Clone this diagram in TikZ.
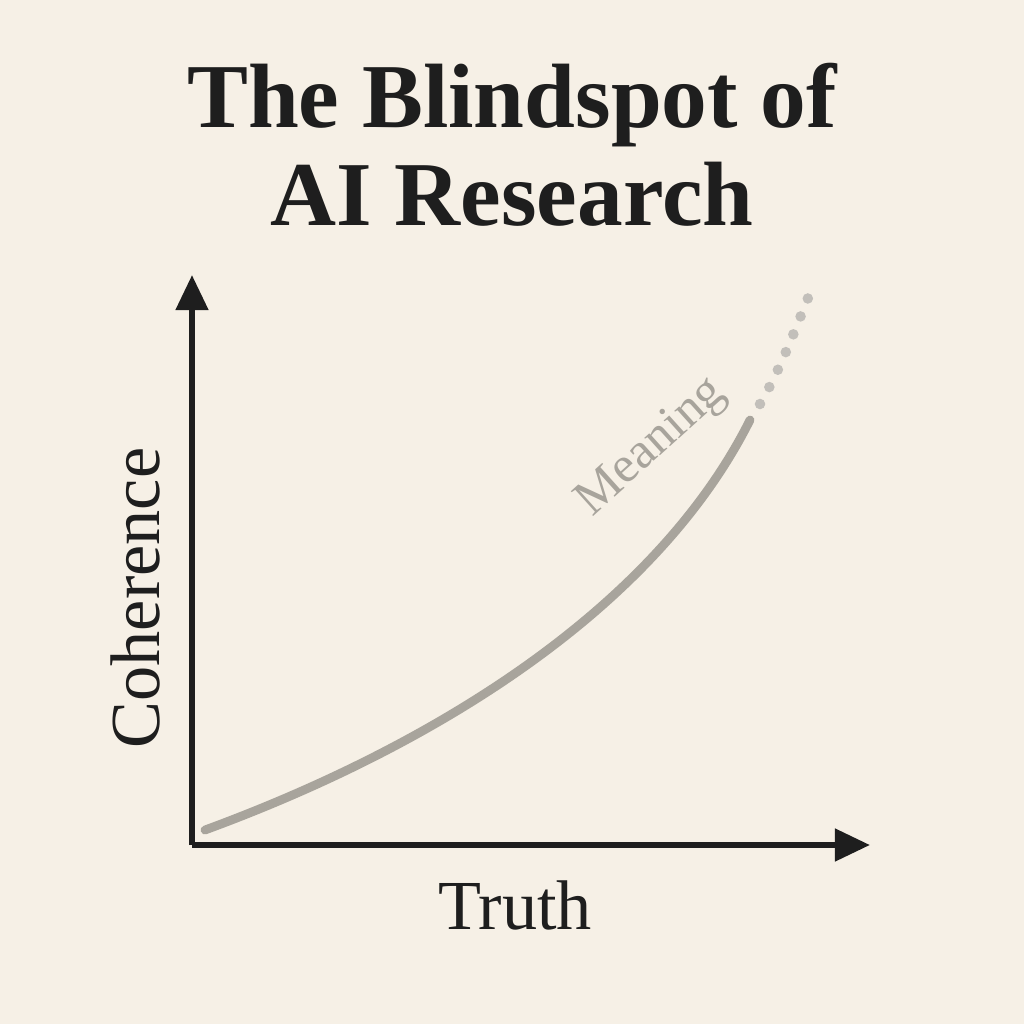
\documentclass[tikz,border=0pt]{standalone}
\usepackage{fontspec}
\setmainfont{Liberation Serif}
\usepackage{tikz}
\usetikzlibrary{arrows.meta}
\definecolor{paper}{HTML}{F6F0E6}
\definecolor{ink}{HTML}{1E1E1E}
\definecolor{curvegray}{HTML}{A8A49C}
\tikzset{
  axis/.style={ink,line width=3.5pt,-{Triangle[length=20pt,width=18pt]}},
  axislabel/.style={ink,font=\fontsize{40}{44}\selectfont},
}
\begin{document}
\begin{tikzpicture}[x=0.02cm,y=-0.02cm]
  \fill[paper] (0,0) rectangle (1024,1024);
  \useasboundingbox (0,0) rectangle (1024,1024);
  \node[ink,font=\fontsize{52}{56}\selectfont\bfseries,align=center] (title) at (512,145) {The Blindspot of\\AI Research};
  \coordinate (origin) at (192,845);
  \coordinate (ytop) at (192,275);
  \coordinate (xend) at (870,845);
  \draw[axis] (origin) -- (ytop);
  \draw[axis] (origin) -- (xend);
  \node[axislabel,rotate=90] (ylab) at (135,598) {Coherence};
  \node[axislabel] (xlab) at (515,905) {Truth};
  \coordinate (cstart) at (205,830);
  \coordinate (cend) at (750,420);
  \coordinate (ctip) at (808,298);
  \draw[curvegray,line width=5pt,line cap=round] (cstart) .. controls (450,740) and (660,600) .. (cend);
  \draw[curvegray!70,line width=6pt,line cap=round,dash pattern=on 0pt off 11pt] (760,404) .. controls (780,370) and (795,330) .. (ctip);
  \node[curvegray,font=\fontsize{29}{30}\selectfont,rotate=42] (mlab) at (652,448) {Meaning};
\end{tikzpicture}
\end{document}
